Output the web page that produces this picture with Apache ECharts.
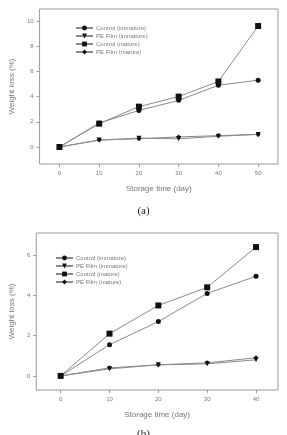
<!DOCTYPE html>
<html>
<head>
<meta charset="utf-8">
<script src="https://cdn.jsdelivr.net/npm/echarts@6/dist/echarts.min.js"></script>
<style>
  html, body { margin: 0; padding: 0; background: #fff; }
  #chart { width: 287px; height: 435px; }
</style>
</head>
<body>
<div id="chart"></div>
<script>
// storage days and weight loss (%)
const seriesNames = ['Control (immature)', 'PE Film (immature)', 'Control (mature)', 'PE Film (mature)'];
const symbols = ['circle', 'triangle', 'rect', 'diamond'];
const symbolRotations = [0, 180, 0, 0];

const daysA = [0, 10, 20, 30, 40, 50];
const controlImmatureA = [0, 1.9, 2.9, 3.7, 4.9, 5.3];
const peImmatureA = [0, 0.55, 0.7, 0.65, 0.85, 1.0];
const controlMatureA = [0, 1.85, 3.2, 4.0, 5.2, 9.6];
const peMatureA = [0, 0.55, 0.65, 0.8, 0.9, 1.0];

const daysB = [0, 10, 20, 30, 40];
const controlImmatureB = [0, 1.55, 2.7, 4.1, 4.95];
const peImmatureB = [0, 0.35, 0.55, 0.6, 0.8];
const controlMatureB = [0, 2.1, 3.5, 4.4, 6.4];
const peMatureB = [0, 0.4, 0.55, 0.65, 0.9];

const xTicksA = [0, 10, 20, 30, 40, 50];
const yTicksA = [0, 2, 4, 6, 8, 10];
const xTicksB = [0, 10, 20, 30, 40];
const yTicksB = [0, 2, 4, 6];

const chart = echarts.init(document.getElementById('chart'));
const txt = '#777';
const fontFamily = 'Liberation Sans, Arial, sans-serif';

function pairs(xs, ys) {
  return xs.map((x, i) => [x, ys[i]]);
}

function makeSeries(idx, valuesA, valuesB) {
  const common = {
    name: seriesNames[idx],
    type: 'line',
    symbol: symbols[idx],
    symbolRotate: symbolRotations[idx],
    symbolSize: idx === 2 ? 6 : 5,
    itemStyle: { color: '#111' },
    lineStyle: { color: '#8a8a8a', width: 1 },
    emphasis: { disabled: true },
    animation: false
  };
  return [
    Object.assign({}, common, { xAxisIndex: 0, yAxisIndex: 0, data: pairs(daysA, valuesA) }),
    Object.assign({}, common, { xAxisIndex: 1, yAxisIndex: 1, data: pairs(daysB, valuesB) })
  ];
}

function xAxis(grid, min, max, ticks, nameGap) {
  return {
    type: 'value', gridIndex: grid, min: min, max: max,
    name: 'Storage time (day)', nameLocation: 'middle', nameGap: nameGap,
    nameTextStyle: { color: txt, fontSize: 8, fontFamily: fontFamily },
    axisLine: { show: false, onZero: false },
    splitLine: { show: false },
    axisTick: { show: true, length: 3, customValues: ticks, lineStyle: { color: '#999' } },
    axisLabel: { customValues: ticks, color: txt, fontSize: 6, margin: 6, fontFamily: fontFamily }
  };
}

function yAxis(grid, min, max, ticks, nameGap) {
  return {
    type: 'value', gridIndex: grid, min: min, max: max,
    name: 'Weight loss (%)', nameLocation: 'middle', nameGap: nameGap,
    nameTextStyle: { color: txt, fontSize: 8, fontFamily: fontFamily },
    axisLine: { show: false, onZero: false },
    splitLine: { show: false },
    axisTick: { show: true, length: 3, customValues: ticks, lineStyle: { color: '#999' } },
    axisLabel: { customValues: ticks, color: txt, fontSize: 6, margin: 6, fontFamily: fontFamily }
  };
}

function legend(left, top) {
  return {
    left: left, top: top, orient: 'vertical', itemGap: 2,
    itemWidth: 17, itemHeight: 6,
    textStyle: { color: txt, fontSize: 6, fontFamily: fontFamily, padding: [0, 0, 0, -2] },
    data: seriesNames,
    selectedMode: false
  };
}

const series = []
  .concat(makeSeries(0, controlImmatureA, controlImmatureB))
  .concat(makeSeries(1, peImmatureA, peImmatureB))
  .concat(makeSeries(2, controlMatureA, controlMatureB))
  .concat(makeSeries(3, peMatureA, peMatureB));

chart.setOption({
  backgroundColor: '#fff',
  animation: false,
  grid: [
    { left: 38, top: 9, width: 240, height: 155, show: true, borderColor: '#999', borderWidth: 1 },
    { left: 33, top: 233, width: 245, height: 157, show: true, borderColor: '#999', borderWidth: 1 }
  ],
  xAxis: [xAxis(0, -5, 55, xTicksA, 21), xAxis(1, -5, 44.5, xTicksB, 21)],
  yAxis: [yAxis(0, -1.35, 10.95, yTicksA, 17), yAxis(1, -0.7, 7.1, yTicksB, 17)],
  legend: [legend(70, 20), legend(50, 250)],
  title: [
    { text: '(a)', left: 'center', top: 201, textStyle: { color: '#222', fontSize: 11, fontWeight: 'normal', fontFamily: 'Liberation Serif, serif' } },
    { text: '(b)', left: 'center', top: 424, textStyle: { color: '#222', fontSize: 11, fontWeight: 'normal', fontFamily: 'Liberation Serif, serif' } }
  ],
  series: series
});
</script>
</body>
</html>
